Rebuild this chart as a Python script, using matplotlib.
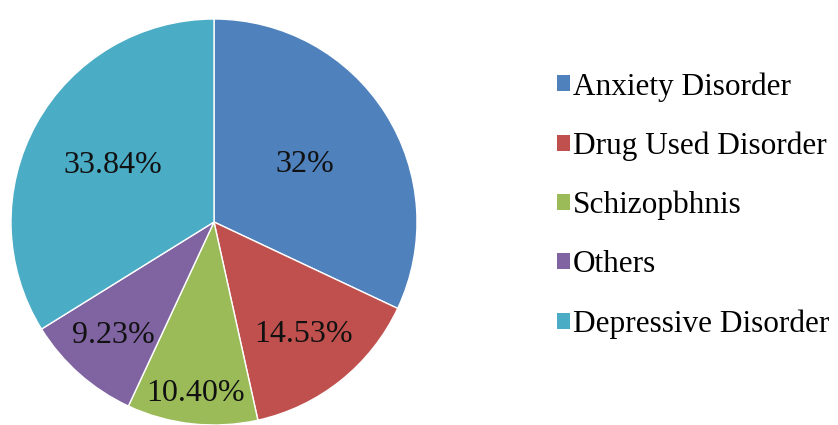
import numpy as np
import matplotlib.pyplot as plt
from matplotlib.patches import Patch

plt.rcParams['font.family'] = ['Liberation Serif', 'DejaVu Serif']

categories = ["Anxiety Disorder", "Drug Used Disorder", "Schizopbhnis",
              "Others", "Depressive Disorder"]
shares = [32.00, 14.53, 10.40, 9.23, 33.84]
pct_labels = ["32%", "14.53%", "10.40%", "9.23%", "33.84%"]
colors = ["#4F81BD", "#C0504D", "#9BBB59", "#8064A2", "#4BACC6"]

# radial position of each percentage label (fraction of radius)
label_radius = [0.53, 0.71, 0.85, 0.75, 0.57]

fig = plt.figure(figsize=(8.38, 4.25), dpi=100)
ax = fig.add_axes([11 / 838, 0.0, 406 / 838, 406 / 425])

wedges, _ = ax.pie(shares, colors=colors, startangle=90, counterclock=False,
                   wedgeprops=dict(edgecolor="white", linewidth=1.0))
ax.set_xlim(-1, 1)
ax.set_ylim(-1, 1)
ax.set_aspect("equal")

for w, txt, r in zip(wedges, pct_labels, label_radius):
    mid = np.deg2rad((w.theta1 + w.theta2) / 2)
    ax.text(r * np.cos(mid), r * np.sin(mid), txt, ha="center", va="center",
            fontsize=23, color="#111111")

handles = [Patch(facecolor=c, edgecolor="none") for c in colors]
fig.legend(handles, categories, loc="upper left", bbox_to_anchor=(557 / 838, 1 - 72 / 425),
           frameon=False, fontsize=22.5, handlelength=0.4, handleheight=0.4,
           handletextpad=0.12, labelspacing=0.96, borderaxespad=0, borderpad=0)

fig.savefig("out.png", dpi=100)
